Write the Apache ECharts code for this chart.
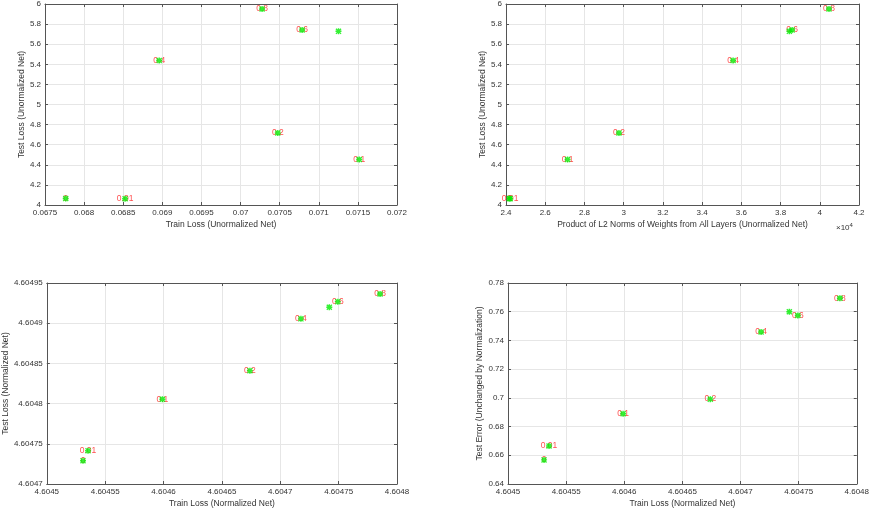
<!DOCTYPE html>
<html lang="en">
<head>
    <meta charset="UTF-8">
    <title>Loss vs norm scatter</title>
    <script src="https://cdn.jsdelivr.net/npm/echarts@6/dist/echarts.min.js"></script>
    <style>
        html, body { margin: 0; padding: 0; background: #fff; }
        #chart { width: 872px; height: 509px; }
    </style>
</head>
<body>
<div id="chart"></div>
<script>
    // one label per point, the 7th point has no label in the source figure
    var pointLabels = ['0', '0.01', '0.1', '0.2', '0.4', '0.6', '', '0.8'];

    var trainLossUnnorm = [0.067765, 0.068524, 0.071517, 0.070476, 0.06896, 0.070787, 0.071252, 0.070275];
    var testLossUnnorm = [4.065, 4.062, 4.453, 4.717, 5.438, 5.742, 5.728, 5.950];
    var normProduct = [24170, 24210, 27140, 29760, 35580, 38590, 38450, 40470];
    var trainLossNorm = [4.604531, 4.6045353, 4.604599, 4.604674, 4.6047177, 4.6047493, 4.604742, 4.6047855];
    var testLossNorm = [4.604729, 4.6047413, 4.6048054, 4.604841, 4.6049054, 4.6049268, 4.6049198, 4.6049364];
    var testError = [0.6568, 0.6665, 0.6889, 0.6991, 0.7459, 0.7574, 0.7600, 0.7694];

    var FONT = 'Liberation Sans';
    var AXIS_COLOR = '#555';
    var TEXT_COLOR = '#333';
    // asterisk marker (+ and x)
    var STAR = 'path://M0,3.8L10,3.8L10,6.2L0,6.2Z M3.8,0L6.2,0L6.2,10L3.8,10Z ' +
        'M1.6,0L10,8.4L8.4,10L0,1.6Z M8.4,0L10,1.6L1.6,10L0,8.4Z';

    function zip(xs, ys) {
        return xs.map(function (x, i) { return [x, ys[i], pointLabels[i]]; });
    }

    function trim(digits) {
        return function (v) { return String(+v.toFixed(digits)); };
    }

    var grids = [
        {left: 45, top: 3, width: 352, height: 202},
        {left: 506, top: 3, width: 353, height: 202},
        {left: 45, top: 283, width: 352, height: 202},
        {left: 508, top: 283, width: 351, height: 202}
    ];

    var panels = [
        {
            x: trainLossUnnorm, y: testLossUnnorm,
            xr: [0.0675, 0.072, 0.0005, trim(5)], yr: [4, 6, 0.2, trim(2)],
            xname: 'Train Loss (Unormalized Net)', yname: 'Test Loss (Unormalized Net)', ygap: 19
        },
        {
            x: normProduct, y: testLossUnnorm,
            xr: [24000, 42000, 2000, function (v) { return String(+(v / 1e4).toFixed(2)); }],
            yr: [4, 6, 0.2, trim(2)],
            xname: 'Product of L2 Norms of Weights from All Layers (Unormalized Net)',
            yname: 'Test Loss (Unormalized Net)', ygap: 19
        },
        {
            x: trainLossNorm, y: testLossNorm,
            xr: [4.6045, 4.6048, 0.00005, trim(6)], yr: [4.6047, 4.60495, 0.00005, trim(6)],
            xname: 'Train Loss (Normalized Net)', yname: 'Test Loss (Normalized Net)', ygap: 36
        },
        {
            x: trainLossNorm, y: testError,
            xr: [4.6045, 4.6048, 0.00005, trim(6)], yr: [0.64, 0.78, 0.02, trim(3)],
            xname: 'Train Loss (Normalized Net)', yname: 'Test Error (Unchanged by Normalization)', ygap: 24
        }
    ];

    var xAxes = [], yAxes = [], series = [];

    panels.forEach(function (p, i) {
        var base = {
            gridIndex: i,
            type: 'value',
            axisLine: {lineStyle: {color: AXIS_COLOR, width: 1}},
            axisTick: {inside: true, length: 3, lineStyle: {color: AXIS_COLOR}},
            nameTextStyle: {fontFamily: FONT, fontSize: 8.5, color: TEXT_COLOR},
            nameLocation: 'middle'
        };
        // bottom / left axes with labels
        xAxes.push(Object.assign({}, base, {
            position: 'bottom', min: p.xr[0], max: p.xr[1], interval: p.xr[2],
            name: p.xname, nameGap: 15,
            axisLabel: {fontFamily: FONT, fontSize: 8, color: TEXT_COLOR, margin: 4, formatter: p.xr[3]},
            splitLine: {show: true, lineStyle: {color: '#e6e6e6', width: 1}}
        }));
        yAxes.push(Object.assign({}, base, {
            position: 'left', min: p.yr[0], max: p.yr[1], interval: p.yr[2],
            name: p.yname, nameGap: p.ygap,
            axisLabel: {fontFamily: FONT, fontSize: 8, color: TEXT_COLOR, margin: 4, formatter: p.yr[3]},
            splitLine: {show: true, lineStyle: {color: '#e6e6e6', width: 1}}
        }));
        // top / right box edges with ticks
        xAxes.push(Object.assign({}, base, {
            position: 'top', min: p.xr[0], max: p.xr[1], interval: p.xr[2],
            axisLabel: {show: false}, splitLine: {show: false}
        }));
        yAxes.push(Object.assign({}, base, {
            position: 'right', min: p.yr[0], max: p.yr[1], interval: p.yr[2],
            axisLabel: {show: false}, splitLine: {show: false}
        }));

        var data = zip(p.x, p.y);
        // red text labels, drawn under the markers
        series.push({
            type: 'scatter', xAxisIndex: i * 2, yAxisIndex: i * 2, z: 2, silent: true,
            symbolSize: 1, itemStyle: {color: 'rgba(0,0,0,0)'},
            data: data,
            label: {
                show: true, position: 'inside', color: '#ff2020',
                fontFamily: FONT, fontSize: 8.5,
                formatter: function (d) { return d.value[2]; }
            }
        });
        series.push({
            type: 'scatter', xAxisIndex: i * 2, yAxisIndex: i * 2, z: 3,
            symbol: STAR, symbolSize: 6, itemStyle: {color: '#00ee00'},
            data: data
        });
    });

    var chart = echarts.init(document.getElementById('chart'), null, {renderer: 'canvas'});
    chart.setOption({
        animation: false,
        backgroundColor: '#fff',
        grid: grids,
        xAxis: xAxes,
        yAxis: yAxes,
        series: series,
        graphic: [{
            type: 'text', left: 836, top: 222,
            style: {
                text: '×10{s|4}', fontFamily: FONT, fontSize: 8, fill: TEXT_COLOR,
                rich: {s: {fontSize: 6, verticalAlign: 'top', padding: [0, 0, 6, 0]}}
            }
        }]
    });
</script>
</body>
</html>
